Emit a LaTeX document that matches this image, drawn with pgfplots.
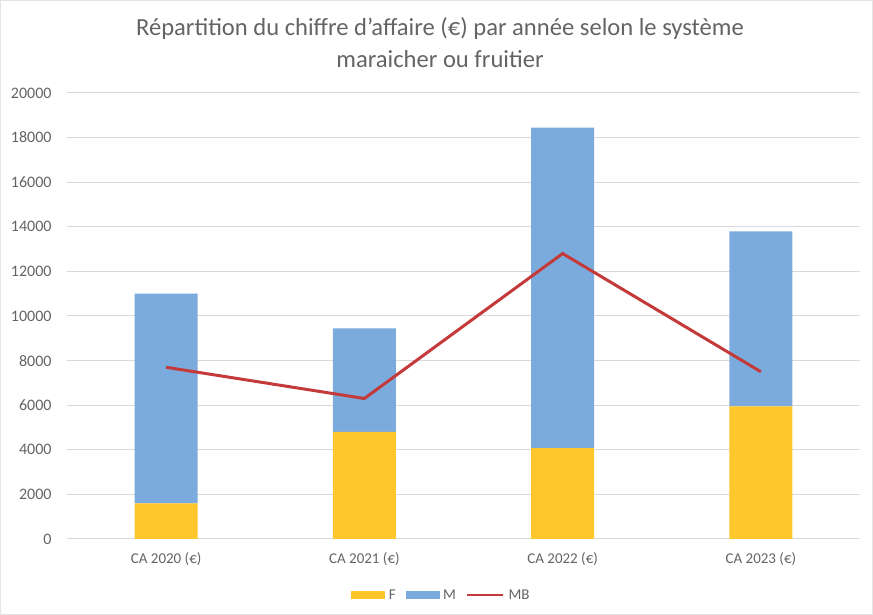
\documentclass[border=0pt]{standalone}
\usepackage{pgfplots}
\pgfplotsset{compat=1.18}
\usepackage{fontspec}
\setmainfont{Carlito}
\definecolor{cF}{RGB}{255,199,44}
\definecolor{cM}{RGB}{122,171,220}
\definecolor{cMB}{RGB}{196,58,58}
\definecolor{txt}{RGB}{100,100,100}
\definecolor{grd}{RGB}{217,217,217}
\begin{document}
\begin{tikzpicture}[x=1pt,y=1pt]
\draw[grd!70, line width=1pt] (0.5,0.5) rectangle (872.5,614.5);
\node[text=txt, font=\fontsize{24.6}{28}\selectfont] at (440,587) {Répartition du chiffre d'affaire (€) par année selon le système};
\node[text=txt, font=\fontsize{24.6}{28}\selectfont] at (440,556) {maraicher ou fruitier};
\pgfplotsset{common/.style={at={(67pt,76pt)}, anchor=south west, scale only axis,
  width=793pt, height=446pt, xmin=-0.5, xmax=3.5, ymin=0, ymax=20000}}
\begin{axis}[common, ybar stacked, bar width=63pt,
  axis lines*=left, y axis line style={draw=none}, x axis line style={grd, line width=1pt},
  tick style={draw=none},
  ytick={0,2000,...,20000}, ymajorgrids, grid style={grd, line width=1pt},
  scaled y ticks=false,
  /pgf/number format/assume math mode=true,
  yticklabel style={font=\fontsize{16}{16}\selectfont, text=txt},
  yticklabel={\pgfmathprintnumber[1000 sep={},assume math mode=true]{\tick}},
  xtick={0,1,2,3},
  xticklabels={CA 2020 (€),CA 2021 (€),CA 2022 (€),CA 2023 (€)},
  xticklabel style={font=\fontsize{15}{15}\selectfont, text=txt},
  xticklabel shift=10pt, yticklabel shift=12pt]
\addplot[fill=cF, draw=none] coordinates {(0,1600) (1,4800) (2,4080) (3,5950)};
\addplot[fill=cM, draw=none] coordinates {(0,9400) (1,4650) (2,14370) (3,7850)};
\end{axis}
\begin{axis}[common, hide axis,
  legend columns=3,
  legend style={at={(0.4735,-0.1256)}, anchor=center, draw=none, fill=none,
    font=\fontsize{15}{15}\selectfont, text=txt,
    nodes={inner xsep=4pt},
    /tikz/every even column/.append style={column sep=6pt}}]
\addlegendimage{legend image code/.code={\fill[cF] (0pt,-3.5pt) rectangle (33pt,3.5pt);}}
\addlegendentry{F}
\addlegendimage{legend image code/.code={\fill[cM] (0pt,-3.5pt) rectangle (33pt,3.5pt);}}
\addlegendentry{M}
\addplot[cMB, line width=3pt, mark=none, legend image code/.code={\draw[cMB, line width=2.5pt] (0pt,0pt) -- (36pt,0pt);}] coordinates {(0,7700) (1,6300) (2,12800) (3,7500)};
\addlegendentry{MB}
\end{axis}
\end{tikzpicture}
\end{document}
